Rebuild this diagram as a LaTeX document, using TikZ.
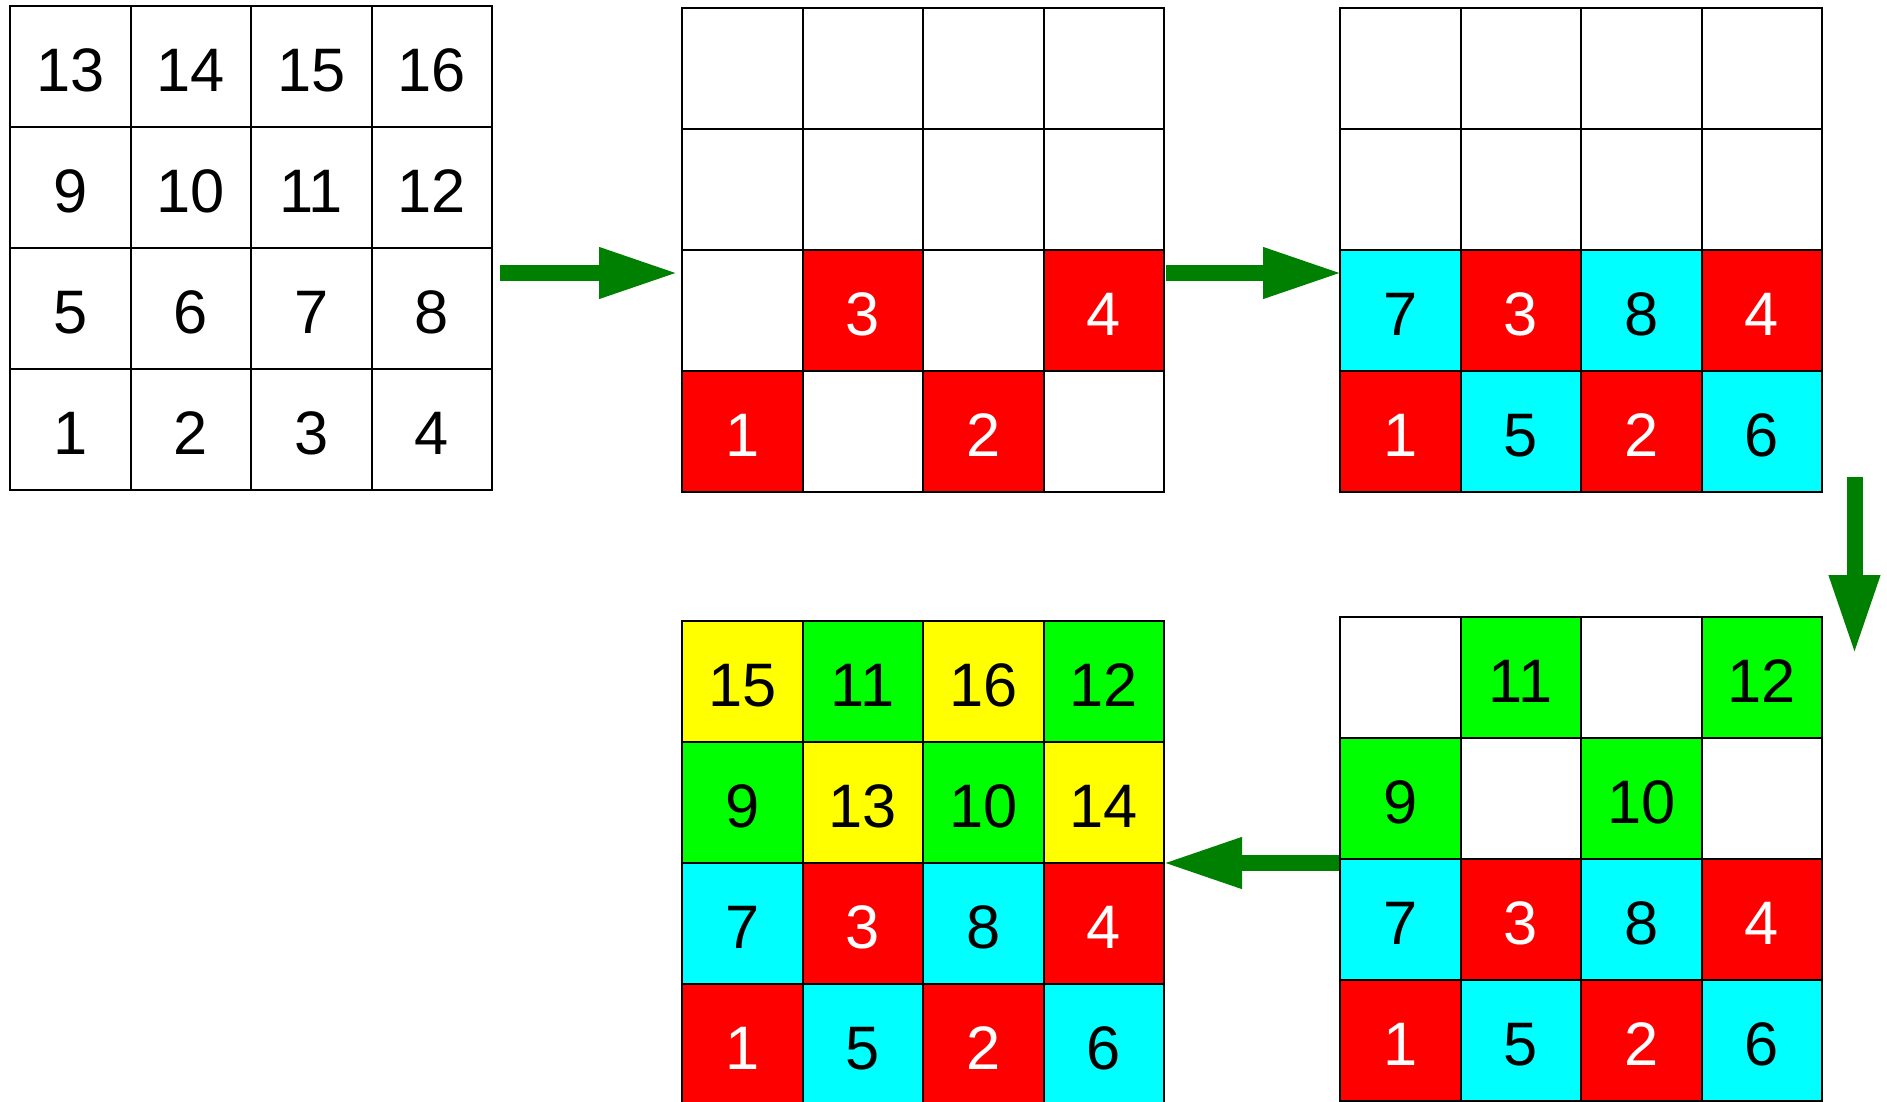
\documentclass[tikz,border=0pt]{standalone}
\usepackage{fontspec}
\setmainfont{Liberation Sans}
\usetikzlibrary{arrows.meta}
\definecolor{arrowgreen}{HTML}{008000}
\definecolor{cred}{HTML}{FF0000}
\definecolor{ccyan}{HTML}{00FFFF}
\definecolor{clime}{HTML}{00FF00}
\definecolor{cyellow}{HTML}{FFFF00}
\newcommand\cellfont{\fontsize{30.7}{36}\selectfont}
\tikzset{
  cell/.style={draw=black, line width=1pt, minimum width=60.25pt, minimum height=60.5pt,
    inner sep=0pt, font=\cellfont, text height=24.6pt, text depth=0pt},
  bigarrow/.style={draw=arrowgreen, line width=8pt,
    -{Triangle[length=40pt,width=23.5pt]}}
}
% name, x0, top, list of col/row/fill/text/label
\newcommand\mygrid[4]{%
  \foreach \cc/\rr/\fc/\tc/\lb in {#4} {
    \node[cell, fill=\fc, text=\tc] (#1-\rr-\cc) at ({#2+(\cc-0.5)*120.5},{#3+(\rr-0.5)*121}) {\lb};
  }%
}
\begin{document}
\begin{tikzpicture}[x=0.5pt,y=-0.5pt]
\useasboundingbox (0,0) rectangle (1887,1102);
\clip (0,0) rectangle (1887,1102);
\fill[white] (0,0) rectangle (1887,1102);

% Grid 1
\mygrid{ga}{10}{6}{1/1/white/black/13,2/1/white/black/14,3/1/white/black/15,4/1/white/black/16,
  1/2/white/black/9,2/2/white/black/10,3/2/white/black/11,4/2/white/black/12,
  1/3/white/black/5,2/3/white/black/6,3/3/white/black/7,4/3/white/black/8,
  1/4/white/black/1,2/4/white/black/2,3/4/white/black/3,4/4/white/black/4}

% Grid 2
\mygrid{gb}{682}{8}{1/1/white/black/,2/1/white/black/,3/1/white/black/,4/1/white/black/,
  1/2/white/black/,2/2/white/black/,3/2/white/black/,4/2/white/black/,
  1/3/white/black/,2/3/cred/white/3,3/3/white/black/,4/3/cred/white/4,
  1/4/cred/white/1,2/4/white/black/,3/4/cred/white/2,4/4/white/black/}

% Grid 3
\mygrid{gc}{1340}{8}{1/1/white/black/,2/1/white/black/,3/1/white/black/,4/1/white/black/,
  1/2/white/black/,2/2/white/black/,3/2/white/black/,4/2/white/black/,
  1/3/ccyan/black/7,2/3/cred/white/3,3/3/ccyan/black/8,4/3/cred/white/4,
  1/4/cred/white/1,2/4/ccyan/black/5,3/4/cred/white/2,4/4/ccyan/black/6}

% Grid 4
\mygrid{gd}{1340}{617}{1/1/white/black/,2/1/clime/black/11,3/1/white/black/,4/1/clime/black/12,
  1/2/clime/black/9,2/2/white/black/,3/2/clime/black/10,4/2/white/black/,
  1/3/ccyan/black/7,2/3/cred/white/3,3/3/ccyan/black/8,4/3/cred/white/4,
  1/4/cred/white/1,2/4/ccyan/black/5,3/4/cred/white/2,4/4/ccyan/black/6}

% Grid 5
\mygrid{ge}{682}{621}{1/1/cyellow/black/15,2/1/clime/black/11,3/1/cyellow/black/16,4/1/clime/black/12,
  1/2/clime/black/9,2/2/cyellow/black/13,3/2/clime/black/10,4/2/cyellow/black/14,
  1/3/ccyan/black/7,2/3/cred/white/3,3/3/ccyan/black/8,4/3/cred/white/4,
  1/4/cred/white/1,2/4/ccyan/black/5,3/4/cred/white/2,4/4/ccyan/black/6}

% Arrows
\coordinate (a1s) at (500,273);
\coordinate (a1e) at (679,273);
\coordinate (a2s) at (1166,273);
\coordinate (a2e) at (1343,273);
\coordinate (a3s) at (1854.5,477);
\coordinate (a3e) at (1854.5,655);
\coordinate (a4s) at (1339,863);
\coordinate (a4e) at (1162,863);
\draw[bigarrow] (a1s) -- (a1e);
\draw[bigarrow] (a2s) -- (a2e);
\draw[bigarrow] (a3s) -- (a3e);
\draw[bigarrow] (a4s) -- (a4e);
\end{tikzpicture}
\end{document}
